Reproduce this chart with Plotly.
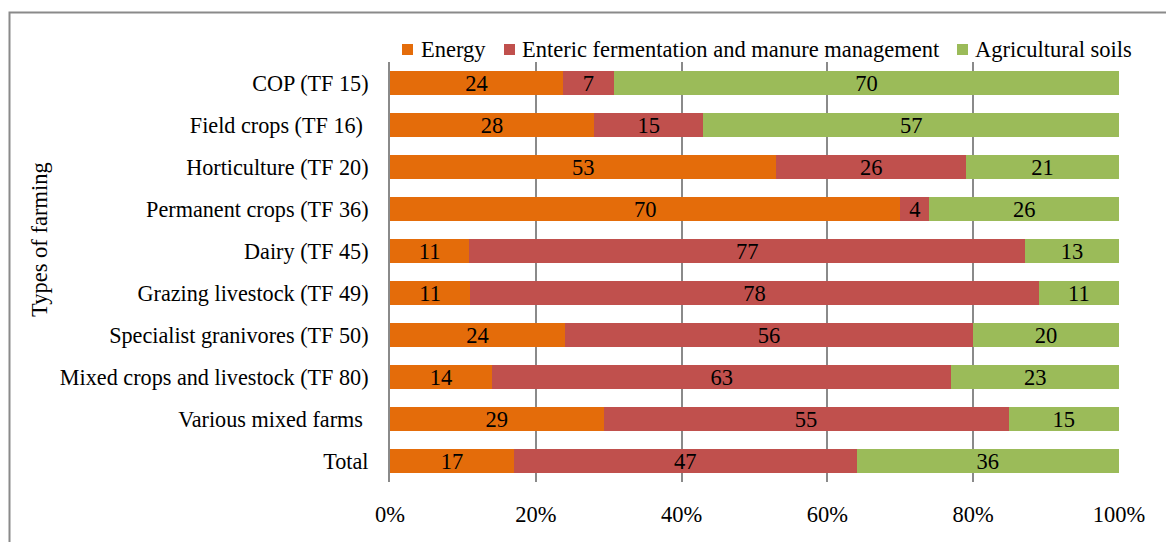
import plotly.graph_objects as go

# Share of GHG emissions by source, per type of farming (%)
categories = [
    "COP (TF 15)",
    "Field crops (TF 16) ",
    "Horticulture (TF 20)",
    "Permanent crops (TF 36)",
    "Dairy (TF 45)",
    "Grazing livestock (TF 49)",
    "Specialist granivores (TF 50)",
    "Mixed crops and livestock (TF 80)",
    "Various mixed farms ",
    "Total",
]
energy = [24, 28, 53, 70, 11, 11, 24, 14, 29, 17]
enteric = [7, 15, 26, 4, 77, 78, 56, 63, 55, 47]
soils = [70, 57, 21, 26, 13, 11, 20, 23, 15, 36]

series_names = ["Energy", "Enteric fermentation and manure management", "Agricultural soils"]
series_values = [energy, enteric, soils]
series_colors = ["#E46C0A", "#C0504D", "#9BBB59"]

x_ticks = [0, 20, 40, 60, 80, 100]
x_tick_labels = ["0%", "20%", "40%", "60%", "80%", "100%"]

FONT = "Liberation Serif"
FS = 22.5
FS_CAT = 22.2
W, H = 1166, 542
L, R, T, B = 390, 47, 62, 60
PW, PH = W - L - R, H - T - B


def px_x(px):
    return (px - L) / PW


def px_y(py):
    return (H - B - py) / PH


fig = go.Figure()
for name, vals, color in zip(series_names, series_values, series_colors):
    fig.add_trace(go.Bar(
        y=categories,
        x=vals,
        name=name,
        orientation="h",
        marker=dict(color=color, line=dict(width=0)),
        text=[str(v) for v in vals],
        textposition="inside",
        insidetextanchor="middle",
        textangle=0,
        constraintext="none",
        textfont=dict(family=FONT, size=FS, color="black"),
        showlegend=False,
        hoverinfo="name+x",
    ))

fig.update_layout(
    width=W,
    height=H,
    margin=dict(l=L, r=R, t=T, b=B, autoexpand=False),
    barmode="stack",
    barnorm="percent",
    bargap=0.43,
    plot_bgcolor="white",
    paper_bgcolor="white",
    font=dict(family=FONT, size=FS, color="black"),
    uniformtext=dict(mode=False),
)

fig.update_xaxes(
    range=[0, 100],
    tickvals=x_ticks,
    ticktext=x_tick_labels,
    showgrid=True,
    gridcolor="#8A8A8A",
    gridwidth=1.5,
    zeroline=False,
    showline=False,
    ticks="",
    ticklabelstandoff=16,
    tickfont=dict(family=FONT, size=FS, color="black"),
)
fig.update_yaxes(
    autorange="reversed",
    showgrid=False,
    showline=True,
    linecolor="#8A8A8A",
    linewidth=2,
    ticks="",
    ticklabelstandoff=15,
    tickfont=dict(family=FONT, size=FS_CAT, color="black"),
)

shapes = []
annotations = []

# outer chart frame
shapes.append(dict(
    type="rect", xref="paper", yref="paper",
    x0=px_x(9.5), x1=px_x(1175), y0=px_y(12.5), y1=px_y(560),
    line=dict(color="#8A8A8A", width=2), fillcolor="rgba(0,0,0,0)", layer="below",
))

# legend row: (square left edge, text left edge)
legend_items = [(402, 419), (504, 520), (957, 973)]
for (sq_x, tx_x), name, color in zip(legend_items, series_names, series_colors):
    shapes.append(dict(
        type="rect", xref="paper", yref="paper",
        x0=px_x(sq_x), x1=px_x(sq_x + 11), y0=px_y(55), y1=px_y(44),
        line=dict(width=0), fillcolor=color,
    ))
    annotations.append(dict(
        text=name, xref="paper", yref="paper",
        x=px_x(tx_x), y=px_y(49), xanchor="left", yanchor="middle",
        showarrow=False, font=dict(family=FONT, size=FS, color="black"),
    ))

# y axis title
annotations.append(dict(
    text="Types of farming", xref="paper", yref="paper",
    x=px_x(39), y=px_y(240), xanchor="center", yanchor="middle",
    textangle=-90, showarrow=False,
    font=dict(family=FONT, size=FS, color="black"),
))

fig.update_layout(shapes=shapes, annotations=annotations)

fig.write_html("out.html")
